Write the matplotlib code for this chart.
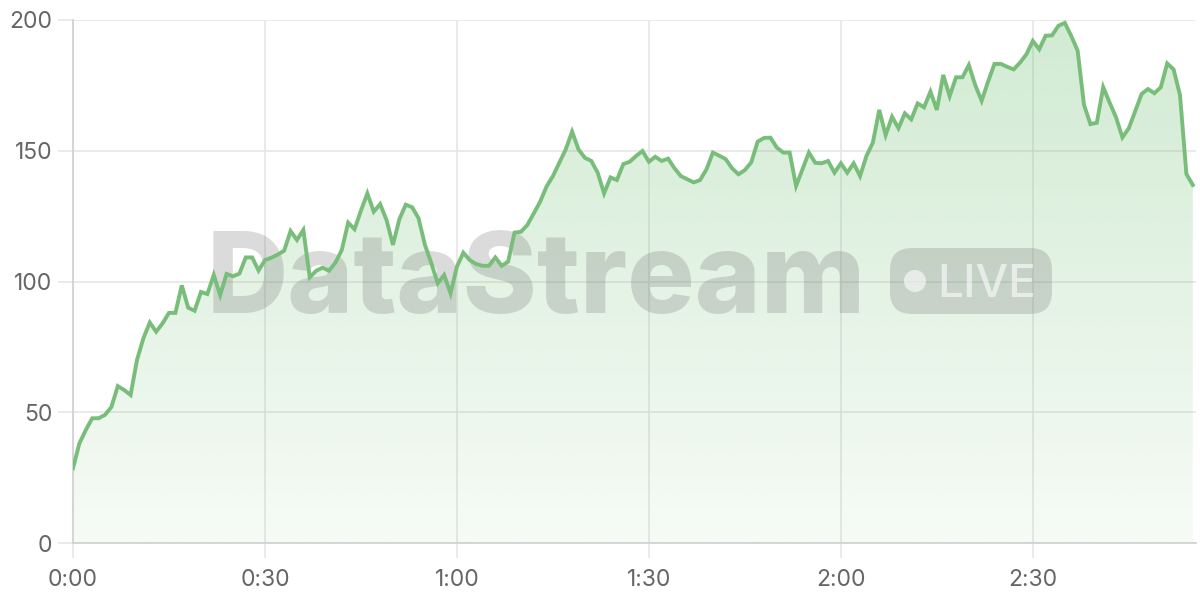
import numpy as np
import matplotlib
matplotlib.use("Agg")
import matplotlib.pyplot as plt
from matplotlib.patches import FancyBboxPatch, Circle

# ---- data ----
values = [
    28.6, 38.1, 43.2, 47.7, 47.7, 49.0, 52.0, 60.0, 58.5, 56.6,
    70.0, 78.3, 84.3, 80.8, 84.0, 88.0, 88.0, 98.5, 90.0, 88.8,
    96.0, 95.2, 102.5, 94.8, 102.9, 102.0, 103.0, 109.2, 109.2, 104.2,
    108.2, 109.1, 110.3, 111.8, 119.3, 115.9, 119.7, 101.6, 104.1, 105.3,
    104.1, 107.2, 112.0, 122.5, 120.0, 127.1, 133.7, 126.7, 129.6, 123.5,
    114.0, 123.8, 129.4, 128.4, 124.2, 114.0, 107.0, 99.3, 102.5, 95.5,
    105.7, 111.0, 108.2, 106.7, 106.0, 106.0, 109.2, 106.0, 107.6, 118.7,
    119.0, 121.6, 126.0, 130.5, 136.3, 140.3, 145.4, 150.5, 157.3, 150.5,
    147.3, 146.1, 141.6, 133.7, 139.8, 138.8, 144.9, 145.8, 148.0, 149.9,
    145.8, 147.7, 146.1, 147.0, 143.3, 140.3, 139.1, 137.9, 138.8, 142.9,
    149.3, 148.1, 146.8, 143.3, 141.0, 142.6, 145.6, 153.5, 154.9, 155.0,
    151.2, 149.3, 149.3, 136.5, 142.9, 149.3, 145.4, 145.2, 146.1, 141.6,
    145.2, 141.6, 145.2, 140.3, 148.0, 153.1, 165.6, 156.0, 163.0, 158.6,
    164.3, 162.0, 168.1, 166.6, 172.6, 165.6, 179.0, 170.9, 178.1, 178.1,
    182.8, 175.1, 169.1, 176.4, 183.2, 183.2, 182.1, 181.1, 183.7, 186.9,
    192.0, 188.8, 194.0, 194.1, 197.8, 198.9, 193.9, 188.3, 167.5, 160.2,
    160.7, 174.3, 168.4, 162.8, 155.1, 158.6, 165.2, 171.7, 173.6, 172.0,
    174.3, 183.4, 181.1, 171.3, 141.1, 136.9,
]
minutes = list(range(len(values)))
x_ticks = [0, 30, 60, 90, 120, 150]
x_tick_labels = ["0:00", "0:30", "1:00", "1:30", "2:00", "2:30"]
y_ticks = [0, 50, 100, 150, 200]
watermark = "DataStream"
badge = "LIVE"

LINE = "#78be7a"
GRID = "#e6e6e6"
AXIS = "#cfcfcf"
LABEL = "#666666"

plt.rcParams["font.family"] = ["Inter", "DejaVu Sans"]

fig = plt.figure(figsize=(12, 6), dpi=100)
ax = fig.add_axes([73 / 1200, 57 / 600, (1196 - 73) / 1200, (543 - 20) / 600])

x = np.array(minutes, dtype=float)
y = np.array(values, dtype=float)

# gradient fill under the line
poly = ax.fill_between(x, y, 0, facecolor="none", edgecolor="none")
n = 256
grad = np.zeros((n, 1, 4))
grad[:, 0, 0] = 0x66 / 255
grad[:, 0, 1] = 0xbb / 255
grad[:, 0, 2] = 0x6a / 255
grad[:, 0, 3] = np.linspace(0.06, 0.30, n)
im = ax.imshow(grad, extent=[0, 175.5, 0, 200], origin="lower",
               aspect="auto", zorder=1, interpolation="bilinear")
im.set_clip_path(poly.get_paths()[0], transform=ax.transData)

# watermark text (between fill and line)
ax.text(207 / 1200, 1 - 313 / 600, watermark, transform=fig.transFigure,
        fontsize=81, fontweight="heavy", color="#7a7a7a", alpha=0.27,
        ha="left", va="baseline", zorder=2)

ax.plot(x, y, color=LINE, lw=2.8, zorder=3, solid_joinstyle="miter")

ax.set_xlim(0, 175.5)
ax.set_ylim(0, 200)
ax.set_xticks(x_ticks)
ax.set_xticklabels(x_tick_labels)
ax.set_yticks(y_ticks)
ax.grid(True, color=GRID, lw=1.2, zorder=0)
ax.set_axisbelow(True)
for s in ["top", "right"]:
    ax.spines[s].set_visible(False)
for s in ["left", "bottom"]:
    ax.spines[s].set_color(AXIS)
    ax.spines[s].set_linewidth(1.2)
ax.tick_params(axis="both", colors=GRID, labelcolor=LABEL, labelsize=16.5,
               length=11, width=1.2)
ax.tick_params(axis="x", pad=8)
ax.tick_params(axis="y", pad=4)

# LIVE badge
bx = fig.add_axes([890 / 1200, 1 - 314 / 600, 162 / 1200, 66 / 600])
bx.set_xlim(0, 162)
bx.set_ylim(0, 66)
bx.axis("off")
bx.patch.set_alpha(0)
bx.add_patch(FancyBboxPatch((0, 0), 162, 66, boxstyle="round,pad=0,rounding_size=22",
                            facecolor="#7a7a7a", alpha=0.27, edgecolor="none"))
bx.add_patch(Circle((25, 33), 11, facecolor="white", alpha=0.6, edgecolor="none"))
bx.text(47, 17, badge, fontsize=33, color="white", alpha=0.6, ha="left",
        va="baseline", fontweight="medium")

fig.savefig("out.png", dpi=100)
